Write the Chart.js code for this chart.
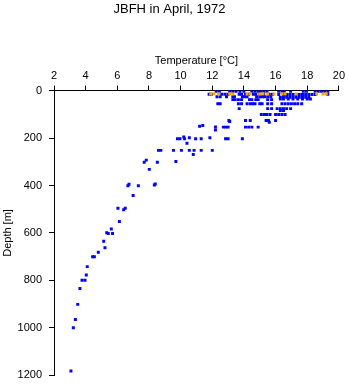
<!DOCTYPE html>
<html>
<head>
<meta charset="utf-8">
<script src="https://cdn.jsdelivr.net/npm/chart.js@4/dist/chart.umd.min.js"></script>
<style>
  html, body { margin: 0; padding: 0; background: #fff; }
  #wrap { width: 348px; height: 384px; }
</style>
</head>
<body>
<div id="wrap"><canvas id="profile"></canvas></div>
<script>
// blue: bottle samples (temperature °C, depth m)
const blueTemp = [
  12.25, 12.45, 13.1, 13.3, 13.5, 13.75, 14.0, 14.5, 14.7, 14.9, 15.05, 15.25, 15.45, 16.2, 16.4, 16.55, 16.95, 17.75, 17.95, 18.5, 18.7, 18.9, 19.1, 19.3,
  11.8, 11.95, 12.6, 12.8, 13.0, 13.7, 13.85, 14.1, 14.3, 14.6, 14.75, 15.0, 15.25, 15.6, 15.8, 16.2, 16.5, 16.7, 16.9, 17.1, 17.3, 17.5, 17.7, 17.9, 18.1, 18.3, 18.5, 19.3,
  12.3, 12.5, 12.9, 13.3, 13.4, 13.9, 14.05, 14.2, 14.8, 15.0, 15.15, 15.3, 15.5, 15.7, 16.3, 16.5, 16.7, 16.9, 17.1, 17.3, 17.5, 17.7, 17.9, 18.1,
  13.3, 13.45, 13.65, 13.85, 14.35, 14.5, 14.75, 14.9, 15.5, 15.75, 16.3, 16.5, 16.8, 17.1, 17.4, 17.7, 18.0, 18.2,
  12.35, 12.5, 13.65, 13.85, 14.2, 14.4, 14.55, 14.7, 15.0, 15.15, 15.5, 15.75, 16.4, 16.6, 16.8, 17.0, 17.2, 17.4, 17.65,
  13.7, 15.5, 15.75, 16.1, 16.3, 16.5, 16.7, 16.95,
  16.3, 16.5,
  15.1, 15.3, 15.45, 15.65, 16.0, 16.2, 16.4, 16.6,
  13.05, 14.1, 14.4, 15.4, 15.55, 16.0,
  15.6, 13.1,
  11.2, 11.4, 12.2, 12.7, 12.85, 13.0, 14.1, 14.3, 14.5, 14.9,
  12.2,
  9.8, 9.96, 10.2, 10.25, 10.55, 10.95, 11.3, 11.85, 12.84, 13.0, 13.9,
  10.4,
  8.6, 8.75, 9.55, 10.05, 10.55, 10.85, 11.3, 12.0,
  10.8,
  7.7, 7.83, 8.53, 9.7,
  8.02,
  6.67, 6.74, 7.33, 8.34, 8.4,
  7.0,
  6.04, 6.4, 6.5,
  6.13, 5.62, 5.33, 5.43, 5.7, 5.14, 5.22, 4.8, 4.44, 4.55, 4.1, 4.04, 3.77, 3.96, 3.64, 3.5, 3.35, 3.22, 3.07
];
const blueDepth = [
  3, 3, 3, 3, 3, 3, 3, 3, 3, 3, 3, 3, 3, 3, 3, 3, 3, 3, 3, 3, 3, 3, 3, 3,
  15, 15, 15, 15, 15, 15, 15, 15, 15, 15, 15, 15, 15, 15, 15, 16, 16, 16, 16, 16, 16, 16, 16, 16, 16, 16, 16, 15,
  26, 26, 26, 26, 26, 26, 26, 26, 26, 26, 26, 26, 26, 26, 28, 28, 28, 28, 28, 28, 28, 28, 28, 28,
  38, 38, 38, 38, 38, 38, 38, 38, 38, 38, 35, 35, 35, 35, 35, 35, 35, 35,
  55, 55, 55, 55, 55, 55, 55, 55, 55, 55, 55, 55, 55, 55, 55, 55, 55, 55, 55,
  76, 76, 76, 76, 76, 76, 76, 76,
  84, 84,
  101, 101, 101, 101, 101, 101, 101, 101,
  126, 126, 126, 126, 126, 126,
  133, 130,
  150, 147, 153, 154, 154, 154, 154, 154, 154, 154,
  166,
  203, 203, 196, 203, 199, 203, 203, 199, 203, 203, 203,
  222,
  252, 252, 252, 252, 252, 252, 252, 252,
  269,
  302, 293, 302, 299,
  332,
  401, 395, 401, 398, 394,
  442,
  496, 502, 496,
  552, 583, 599, 602, 602, 635, 662, 681, 700, 700, 742, 777, 799, 799, 834, 901, 965, 1000, 1182
];
// orange: surface samples
const orangeTemp = [11.9, 12.1, 12.4, 13.1, 13.3, 14.2, 14.4, 15.0, 15.2, 15.5, 15.9, 16.4, 16.6, 17.3, 18.6, 19.0, 19.2];
const orangeDepth = [14, 13, 14, 13, 14, 14, 13, 14, 13, 14, 14, 14, 13, 14, 13, 14, 13];

const tempTicks = [2, 4, 6, 8, 10, 12, 14, 16, 18, 20];
const depthTicks = [0, 200, 400, 600, 800, 1000, 1200];

const toPoints = (xs, ys) => xs.map((t, i) => ({ x: t, y: ys[i] }));

Chart.defaults.font.family = "'Liberation Sans', Arial, sans-serif";
Chart.defaults.color = '#000';

new Chart(document.getElementById('profile'), {
    type: 'scatter',
    data: {
        datasets: [{
            label: 'surface',
            data: toPoints(orangeTemp, orangeDepth),
            backgroundColor: '#ffa500',
            pointStyle: 'rect',
            pointRadius: 2.1,
            borderWidth: 0
        }, {
            label: 'samples',
            data: toPoints(blueTemp, blueDepth),
            backgroundColor: '#0000ff',
            pointStyle: 'rect',
            pointRadius: 2.1,
            borderWidth: 0
        }]
    },
    options: {
        responsive: true,
        maintainAspectRatio: false,
        animation: false,
        events: [],
        layout: { padding: { left: 0, right: 9, top: 0, bottom: 0 } },
        plugins: {
            legend: { display: false },
            tooltip: { enabled: false },
            title: {
                display: true,
                text: 'JBFH in April, 1972',
                font: { size: 13, weight: 'normal' },
                color: '#000',
                padding: { top: 2, bottom: 0 }
            }
        },
        scales: {
            x: {
                type: 'linear',
                position: 'top',
                min: 2,
                max: 20,
                afterBuildTicks: s => { s.ticks = tempTicks.map(v => ({ value: v })); },
                afterFit: s => { s.height = 73; },
                ticks: { font: { size: 11 }, padding: 3, maxRotation: 0, callback: v => String(v) },
                grid: { drawOnChartArea: false, tickLength: 5, color: '#000' },
                border: { color: '#000' },
                title: {
                    display: true,
                    text: 'Temperature [°C]',
                    font: { size: 11 },
                    padding: { top: 37, bottom: 0 }
                }
            },
            y: {
                type: 'linear',
                reverse: true,
                min: 0,
                max: 1200,
                afterBuildTicks: s => { s.ticks = depthTicks.map(v => ({ value: v })); },
                afterFit: s => { s.width = 54; s.paddingBottom = 8.7; },
                ticks: { font: { size: 11 }, padding: 7, callback: v => String(v) },
                grid: { drawOnChartArea: false, tickLength: 5, color: '#000' },
                border: { color: '#000' },
                title: {
                    display: true,
                    text: 'Depth [m]',
                    font: { size: 11 },
                    padding: { top: 1, bottom: 0 }
                }
            }
        }
    }
});
</script>
</body>
</html>
